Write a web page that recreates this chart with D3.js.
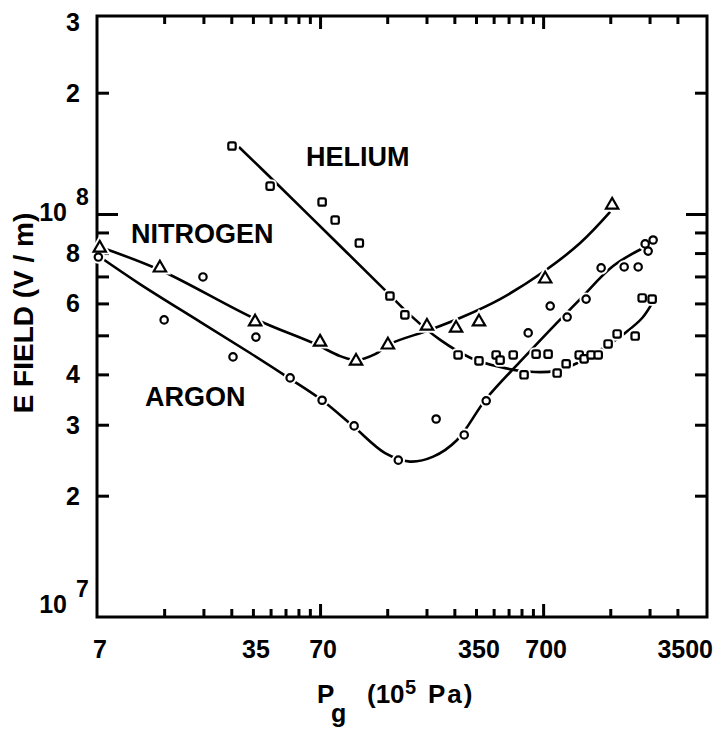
<!DOCTYPE html>
<html>
  <head>
    <meta charset="utf-8">
    <title>E field vs pressure</title>
    <script src="https://d3js.org/d3.v7.min.js"></script>
    <style>
      body { margin: 0; background: white; }
      text { font-family: "Liberation Sans", Arial, sans-serif; font-weight: bold; fill: black; }
      .fit { fill: none; stroke: black; stroke-width: 2.6; }
      .halo { fill: white; stroke: white; stroke-width: 6; }
      .mark { fill: white; stroke: black; stroke-width: 2.2; }
    </style>
  </head>
  <body>
    <script>
      // pressure in 10^5 Pa, field in V/m
      var heliumP = [28.2, 41.8, 71.5, 81.8, 105, 144, 168, 291, 361, 431, 449, 514, 575, 651, 737, 809, 888, 1016, 1069, 1149, 1236, 1369, 1503, 1810, 1946, 2157];
      var heliumE = [1.475e8, 1.173e8, 1.071e8, 9.66e7, 8.47e7, 6.26e7, 5.62e7, 4.47e7, 4.32e7, 4.47e7, 4.34e7, 4.47e7, 3.99e7, 4.49e7, 4.49e7, 4.03e7, 4.25e7, 4.47e7, 4.37e7, 4.47e7, 4.47e7, 4.76e7, 5.04e7, 4.98e7, 6.19e7, 6.15e7];

      var argonP = [7.1, 14.0, 20.9, 28.5, 36.1, 51.4, 71.5, 99.5, 157, 232, 310, 389, 600, 753, 897, 1091, 1274, 1616, 1867, 2007, 2070, 2179];
      var argonE = [7.82e7, 5.46e7, 6.98e7, 4.42e7, 4.95e7, 3.92e7, 3.45e7, 2.98e7, 2.45e7, 3.10e7, 2.83e7, 3.44e7, 5.07e7, 5.91e7, 5.55e7, 6.15e7, 7.35e7, 7.39e7, 7.39e7, 8.43e7, 8.09e7, 8.62e7];

      var nitrogenP = [7.2, 13.4, 35.8, 70, 101.5, 141, 211, 285, 361, 715, 1427];
      var nitrogenE = [8.28e7, 7.39e7, 5.43e7, 4.84e7, 4.34e7, 4.76e7, 5.30e7, 5.24e7, 5.43e7, 6.94e7, 1.059e8];

      // hand-drawn fit curves
      var heliumFitP = [30.3, 44.0, 77.6, 134, 177, 242, 330, 449, 612, 792, 1026, 1328, 1633, 1946, 2157];
      var heliumFitE = [1.467e8, 1.201e8, 8.82e7, 6.55e7, 5.62e7, 4.87e7, 4.40e7, 4.17e7, 4.06e7, 4.08e7, 4.30e7, 4.68e7, 5.07e7, 5.52e7, 6.01e7];

      var argonFitP = [7.22, 10.9, 20.3, 34.0, 51.4, 71.5, 99.5, 137, 177, 225, 288, 389, 552, 753, 1026, 1442, 2049];
      var argonFitE = [7.82e7, 6.70e7, 5.40e7, 4.52e7, 3.90e7, 3.45e7, 2.96e7, 2.55e7, 2.43e7, 2.50e7, 2.75e7, 3.48e7, 4.30e7, 5.16e7, 6.15e7, 7.43e7, 8.33e7];

      var nitrogenFitP = [7.22, 13.4, 35.8, 66.5, 86.1, 101.5, 123.6, 144, 218, 304, 449, 700, 1026, 1398];
      var nitrogenFitE = [8.28e7, 7.26e7, 5.49e7, 4.76e7, 4.44e7, 4.34e7, 4.49e7, 4.76e7, 5.16e7, 5.55e7, 6.15e7, 7.18e7, 8.47e7, 1.012e8];

      var xMinorTicks = [14, 21, 28, 35, 42, 49, 56, 63, 140, 210, 280, 350, 420, 490, 560, 630, 1400, 2100, 2800];
      var xMajorTicks = [70, 700];
      var xLabels = [7, 35, 70, 350, 700, 3500];
      var yMinorTicks = [2e7, 3e7, 4e7, 5e7, 6e7, 7e7, 8e7, 9e7, 2e8];
      var yMajorTicks = [1e8];
      var yDigitLabels = [[2e7, '2'], [3e7, '3'], [4e7, '4'], [6e7, '6'], [8e7, '8'], [2e8, '2'], [3e8, '3']];
      var yPowerLabels = [[1e7, '7', -4], [1e8, '8', 7]];

      var W = 726, H = 731;
      var pL = 97, pR = 707, pT = 16, pB = 617;

      var svg = d3.select('body').append('svg').attr('width', W).attr('height', H);

      var x = d3.scaleLog().domain([7, 3800]).range([pL, pR]);
      var y = d3.scaleLog().domain([1e7, 3.1e8]).range([pB, pT]);

      function zip(a, b) { return a.map(function(v, i){ return [v, b[i]]; }); }

      var line = d3.line()
        .x(function(d){ return x(d[0]) })
        .y(function(d){ return y(d[1]) })
        .curve(d3.curveCatmullRom.alpha(0.5));

      // ticks, all pointing inward
      function tickStyle(g) {
        g.select('.domain').remove();
        g.selectAll('line').attr('stroke', 'black').attr('stroke-width', 3);
      }
      svg.append('g').attr('transform', 'translate(0,' + pB + ')')
        .call(d3.axisBottom(x).tickValues(xMinorTicks).tickSize(-8).tickFormat('')).call(tickStyle);
      svg.append('g').attr('transform', 'translate(0,' + pB + ')')
        .call(d3.axisBottom(x).tickValues(xMajorTicks).tickSize(-13).tickFormat('')).call(tickStyle);
      svg.append('g').attr('transform', 'translate(0,' + pT + ')')
        .call(d3.axisTop(x).tickValues(xMinorTicks).tickSize(-8).tickFormat('')).call(tickStyle);
      svg.append('g').attr('transform', 'translate(0,' + pT + ')')
        .call(d3.axisTop(x).tickValues(xMajorTicks).tickSize(-13).tickFormat('')).call(tickStyle);
      svg.append('g').attr('transform', 'translate(' + pL + ',0)')
        .call(d3.axisLeft(y).tickValues(yMinorTicks).tickSize(-12).tickFormat('')).call(tickStyle);
      svg.append('g').attr('transform', 'translate(' + pL + ',0)')
        .call(d3.axisLeft(y).tickValues(yMajorTicks).tickSize(-21).tickFormat('')).call(tickStyle);
      svg.append('g').attr('transform', 'translate(' + pR + ',0)')
        .call(d3.axisRight(y).tickValues(yMinorTicks).tickSize(-12).tickFormat('')).call(tickStyle);
      svg.append('g').attr('transform', 'translate(' + pR + ',0)')
        .call(d3.axisRight(y).tickValues(yMajorTicks).tickSize(-21).tickFormat('')).call(tickStyle);

      svg.append('rect')
        .attr('x', pL).attr('y', pT).attr('width', pR - pL).attr('height', pB - pT)
        .attr('fill', 'none').attr('stroke', 'black').attr('stroke-width', 3);

      // fit curves
      [[heliumFitP, heliumFitE], [argonFitP, argonFitE], [nitrogenFitP, nitrogenFitE]].forEach(function(s){
        svg.append('path').datum(zip(s[0], s[1])).attr('class', 'fit').attr('d', line);
      });

      // markers: white halo first so curves break around them
      var tri = d3.symbol().type(d3.symbolTriangle).size(66);
      ['halo', 'mark'].forEach(function(cls){
        var g = svg.append('g');
        g.selectAll('circle').data(zip(argonP, argonE)).enter().append('circle')
          .attr('class', cls)
          .attr('cx', function(d){ return x(d[0]) })
          .attr('cy', function(d){ return y(d[1]) })
          .attr('r', 3.7);
        g.selectAll('rect').data(zip(heliumP, heliumE)).enter().append('rect')
          .attr('class', cls)
          .attr('x', function(d){ return x(d[0]) - 3.7 })
          .attr('y', function(d){ return y(d[1]) - 3.7 })
          .attr('width', 7.4).attr('height', 7.4).attr('rx', 1.8);
        g.selectAll('path').data(zip(nitrogenP, nitrogenE)).enter().append('path')
          .attr('class', cls)
          .attr('transform', function(d){ return 'translate(' + x(d[0]) + ',' + (y(d[1]) + 1) + ')' })
          .attr('d', tri);
      });

      // series names
      var names = [['HELIUM', 306, 166], ['NITROGEN', 131, 243], ['ARGON', 145, 406]];
      svg.selectAll('text.name').data(names).enter().append('text')
        .attr('class', 'name')
        .attr('x', function(d){ return d[1] })
        .attr('y', function(d){ return d[2] })
        .attr('font-size', 27)
        .text(function(d){ return d[0] });

      // x tick labels
      svg.selectAll('text.xl').data(xLabels).enter().append('text')
        .attr('class', 'xl')
        .attr('x', function(d){ return d === 3500 ? x(d) + 14 : x(d) + 3 })
        .attr('y', 658)
        .attr('text-anchor', function(d){ return d === 3500 ? 'end' : 'middle' })
        .attr('font-size', 25)
        .text(function(d){ return d });

      // y tick labels
      svg.selectAll('text.yl').data(yDigitLabels).enter().append('text')
        .attr('class', 'yl')
        .attr('x', 80)
        .attr('y', function(d){ return y(d[0]) + 9 })
        .attr('text-anchor', 'end')
        .attr('font-size', 25)
        .text(function(d){ return d[1] });
      yPowerLabels.forEach(function(d){
        svg.append('text').attr('x', 67).attr('y', y(d[0]) + d[2])
          .attr('text-anchor', 'end').attr('font-size', 25).text('10');
        svg.append('text').attr('x', 76).attr('y', y(d[0]) + d[2] - 16)
          .attr('font-size', 23).text(d[1]);
      });

      // axis titles
      svg.append('text')
        .attr('transform', 'translate(33,313) rotate(-90)')
        .attr('text-anchor', 'middle')
        .attr('font-size', 28)
        .text('E FIELD (V / m)');

      var xt = svg.append('g');
      xt.append('text').attr('x', 317).attr('y', 703).attr('font-size', 26).text('P');
      xt.append('text').attr('x', 331).attr('y', 722).attr('font-size', 25).text('g');
      xt.append('text').attr('x', 367).attr('y', 703).attr('font-size', 26).text('(10');
      xt.append('text').attr('x', 405).attr('y', 694).attr('font-size', 20).text('5');
      xt.append('text').attr('x', 428).attr('y', 703).attr('font-size', 26).attr('letter-spacing', 2).text('Pa)');
    </script>
  </body>
</html>
